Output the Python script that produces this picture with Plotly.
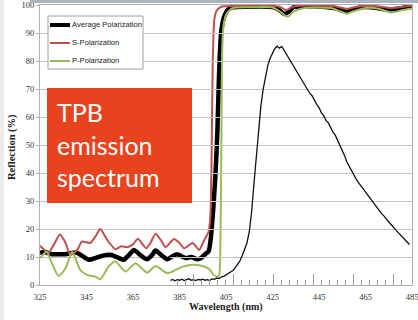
import plotly.graph_objects as go

# ---------------- data ----------------
avg_wl = [325, 327, 330, 333, 336, 339, 341, 343, 346, 349, 352, 355.3, 358, 361, 363, 365.4, 368, 371,
          373, 374.7, 377, 379.8, 382, 384, 386, 387.7, 390, 392.8, 394.5, 396, 397.5, 398.5, 399.5,
          400.5, 401.3, 402, 403, 404.5, 406, 408, 415, 420, 425, 428, 430, 432, 434, 440, 447, 452,
          455, 458, 461, 466, 470, 474, 478, 482, 485]
avg_val = [11.5, 11.8, 11.0, 11.0, 11.0, 11.5, 11.5, 10.5, 9.0, 9.7, 10.5, 10.8, 10.0, 9.0, 10.5, 12.5, 10.8, 9.2,
           10.5, 12.3, 10.8, 9.2, 10.3, 11.0, 10.2, 9.6, 10.0, 9.2, 9.8, 11.0, 12.0, 17.0, 27.0,
           40.0, 55.0, 75.0, 91.0, 96.5, 98.5, 99.2, 99.4, 99.5, 99.3, 98.2, 96.8, 97.6, 99.2, 99.5, 99.4, 98.8,
           98.0, 98.0, 98.8, 99.3, 98.9, 98.4, 98.6, 99.1, 99.3]

s_wl = [325, 328.6, 331, 333.6, 336, 338, 341, 343, 346.6, 349, 350.9, 354, 357.4, 360, 362.5, 365, 367.1,
        370.7, 372.5, 374.7, 377, 379, 382.6, 385, 387, 390.6, 393.5, 395.6, 397.5, 398.3, 398.8,
        399.3, 400, 401, 403, 405, 410, 420, 428, 431, 434, 440, 452, 457, 462, 470, 476, 482, 485]
s_val = [14.0, 11.5, 14.5, 18.0, 15.0, 10.8, 12.5, 15.5, 15.0, 17.5, 20.0, 16.0, 12.8, 13.8, 13.5, 14.5, 16.5,
         13.1, 15.0, 18.3, 16.0, 13.5, 16.4, 15.0, 13.1, 15.0, 12.5, 16.0, 19.0, 25.0, 45.0,
         80.0, 95.0, 98.0, 99.4, 99.6, 99.7, 99.8, 99.4, 98.2, 99.5, 99.8, 99.6, 98.6, 99.5, 99.6, 98.9, 99.5, 99.7]

p_wl = [325, 327.9, 330, 333, 336, 338.8, 340.5, 342.3, 345.2, 348.8, 350.9, 354.5, 357.4, 361.8, 366.1,
        371.1, 374.7, 379.8, 385.6, 390.6, 395.6, 398, 399.5, 401, 402, 402.6, 403, 403.4, 404,
        405, 407, 409, 415, 425, 428.5, 431.4, 434.5, 440, 450, 454, 457, 460, 466, 471, 476, 481, 485]
p_val = [9.6, 11.9, 8.0, 3.2, 6.0, 11.9, 9.0, 5.4, 3.6, 3.0, 2.0, 6.6, 8.4, 4.8, 7.8,
         4.4, 6.8, 4.2, 6.3, 7.2, 6.6, 5.5, 3.8, 3.0, 3.5, 15.0, 50.0, 85.0, 93.0,
         96.5, 98.5, 99.1, 99.2, 99.1, 97.5, 95.8, 97.8, 99.0, 98.9, 97.8, 96.9, 97.8, 99.0, 98.6, 97.3, 98.2, 98.8]

em_wl = list(range(381, 485))
em_val = [1.6, 2.0, 1.5, 1.9, 1.7, 2.1, 1.6, 1.8, 2.2, 1.7, 1.9, 1.6, 2.0, 1.8, 2.1, 1.7, 1.9, 1.6, 2.2, 2.0,
          2.5, 2.3, 2.9, 3.1, 3.6, 4.0, 4.6, 5.2, 6.2, 7.5, 8.6, 10.5, 12.5, 15.0, 19.0, 26.0, 36.0, 45.0,
          55.0, 64.0, 70.0, 75.0, 78.5, 81.0, 83.0, 84.5, 85.3, 84.6, 85.2, 83.8, 82.5, 81.2, 79.5, 78.6,
          76.8, 75.5, 74.2, 72.9, 71.3, 70.2, 68.5, 67.6, 65.9, 64.5, 63.4, 61.6, 60.5, 58.8, 57.9, 56.2,
          54.6, 53.5, 51.8, 50.2, 48.1, 46.2, 43.9, 42.3, 40.6, 39.4, 37.8, 36.6, 35.5, 34.1, 33.2, 31.9,
          31.0, 29.6, 28.5, 27.6, 26.3, 25.4, 24.6, 23.4, 22.5, 21.6, 20.5, 19.7, 18.8, 17.9, 17.0, 16.2,
          15.3, 14.4]

x_ticks = [325, 345, 365, 385, 405, 425, 445, 465, 485]
y_ticks = [0, 10, 20, 30, 40, 50, 60, 70, 80, 90, 100]
legend_names = ["Average Polarization", "S-Polarization", "P-Polarization"]
series_colors = ["#000000", "#C0504D", "#9BBB59"]

# ---------------- figure ----------------
W, H = 418, 320
L, R, T, B = 40, 6, 5, 35
pw, ph = W - L - R, H - T - B


def px(xp):
    return (xp - L) / pw


def py(yp):
    return (H - B - yp) / ph


fig = go.Figure()
fig.add_trace(go.Scatter(x=avg_wl, y=avg_val, mode="lines", name=legend_names[0],
                         line=dict(color=series_colors[0], width=4.5, shape="spline", smoothing=0.6)))
fig.add_trace(go.Scatter(x=s_wl, y=s_val, mode="lines", name=legend_names[1],
                         line=dict(color=series_colors[1], width=2, shape="spline", smoothing=0.6)))
fig.add_trace(go.Scatter(x=p_wl, y=p_val, mode="lines", name=legend_names[2],
                         line=dict(color=series_colors[2], width=2, shape="spline", smoothing=0.6)))
fig.add_trace(go.Scatter(x=em_wl, y=em_val, mode="lines", name="TPB emission", xaxis="x2",
                         line=dict(color="#111111", width=1.3), showlegend=False))

serif = "Liberation Serif"
grid = "#c4c4c4"

fig.update_layout(
    width=W, height=H, autosize=False,
    margin=dict(l=L, r=R, t=T, b=B, autoexpand=False),
    paper_bgcolor="white", plot_bgcolor="rgba(0,0,0,0)",
    showlegend=False,
    xaxis=dict(range=[325, 485.001], tickvals=x_ticks, showgrid=False, zeroline=False,
               showline=True, linecolor="#b0b0b0", mirror=True, ticks="", automargin=False,
               tickfont=dict(family=serif, size=8.5, color="#333"), ticklabelstandoff=4,
               ticklabeloverflow="allow"),
    yaxis=dict(range=[0, 100.01], tickvals=y_ticks, showgrid=True, gridcolor=grid, gridwidth=1,
               zeroline=False, showline=True, linecolor="#b0b0b0", mirror=True, automargin=False,
               ticks="outside", ticklen=3, tickcolor="#b0b0b0",
               tickfont=dict(family=serif, size=8.5, color="#333")),
    xaxis2=dict(domain=[(381 - 325) / 160, (484 - 325) / 160], range=[381, 484], anchor="y",
                showgrid=False, zeroline=False, showline=False, showticklabels=False, automargin=False,
                ticks="inside", ticklen=11, tickcolor="#9a9a9a", tick0=391.2, dtick=17.17,
                minor=dict(ticks="inside", ticklen=5, tickcolor="#9a9a9a", tick0=391.2, dtick=3.434)),
)

shapes = []
# slide frame bits
shapes.append(dict(type="rect", xref="paper", yref="paper", x0=px(30), x1=px(W), y0=py(3), y1=py(0),
                   fillcolor="#aab4c0", line=dict(width=0), layer="above"))
shapes.append(dict(type="rect", xref="paper", yref="paper", x0=px(0), x1=px(4), y0=py(H), y1=py(0),
                   fillcolor="#ececec", line=dict(width=0)))
# legend box
shapes.append(dict(type="rect", xref="paper", yref="paper", x0=px(48), x1=px(143), y0=py(69), y1=py(16),
                   fillcolor="white", line=dict(color="#a0a0a0", width=1), layer="above"))
leg_y = [25, 43, 61]
leg_w = [4, 2, 2]
for i in range(3):
    shapes.append(dict(type="line", xref="paper", yref="paper", x0=px(50), x1=px(70),
                       y0=py(leg_y[i]), y1=py(leg_y[i]),
                       line=dict(color=series_colors[i], width=leg_w[i]), layer="above"))
# red label box
shapes.append(dict(type="rect", xref="paper", yref="paper", x0=px(47), x1=px(192), y0=py(203), y1=py(88),
                   fillcolor="#E8431F", line=dict(width=0), layer="above"))
fig.update_layout(shapes=shapes)

ann = []
for i in range(3):
    ann.append(dict(xref="paper", yref="paper", x=px(70), y=py(leg_y[i]), xanchor="left", yanchor="middle",
                    text=legend_names[i], showarrow=False,
                    font=dict(family="Liberation Sans", size=7.6, color="#222")))
ann.append(dict(xref="paper", yref="paper", x=px(55), y=py(144), xanchor="left", yanchor="middle",
                text="TPB<br>emission<br>spectrum", align="left", showarrow=False,
                font=dict(family="Lato", size=25, color="white")))
ann.append(dict(xref="paper", yref="paper", x=0.5, y=py(307), xanchor="center", yanchor="middle",
                text="<b>Wavelength (nm)</b>", showarrow=False,
                font=dict(family=serif, size=10, color="#222")))
ann.append(dict(xref="paper", yref="paper", x=px(12), y=py(147), xanchor="center", yanchor="middle",
                text="<b>Reflection (%)</b>", textangle=-90, showarrow=False,
                font=dict(family=serif, size=10.5, color="#222")))
fig.update_layout(annotations=ann)

fig.write_html("out.html")
